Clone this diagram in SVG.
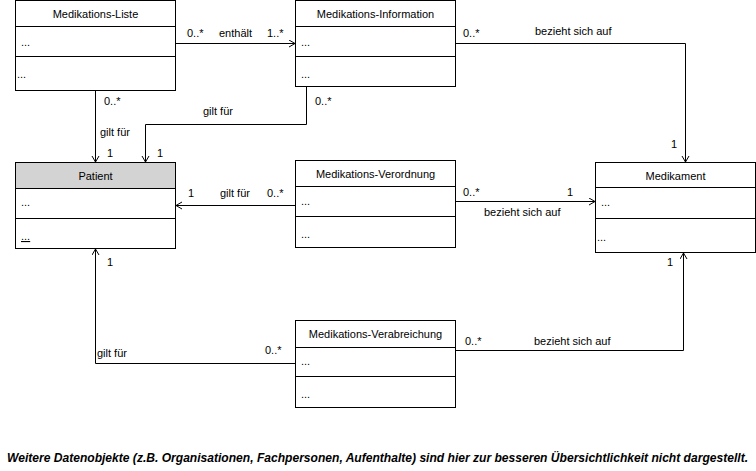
<svg xmlns="http://www.w3.org/2000/svg" width="756" height="471" viewBox="0 0 756 471">
<defs>
<style>
text{font-family:"Liberation Sans",Arial,sans-serif;font-size:11px;fill:#000}
.t{text-anchor:middle}
.box{fill:#fff;stroke:#000;stroke-width:1}
.hdr{fill:#d3d3d3;stroke:#000;stroke-width:1}
.ln{fill:none;stroke:#000;stroke-width:1}
.note{font-family:"Liberation Sans Narrow","Liberation Sans",Arial,sans-serif;font-size:12px;font-weight:bold;font-style:italic}
</style>
<marker id="arr" markerWidth="8" markerHeight="9" refX="6" refY="4" orient="auto" markerUnits="userSpaceOnUse">
<path d="M0,0.5 L6,4 L0,7.5" fill="none" stroke="#000" stroke-width="1"/>
</marker>
</defs>
<rect width="756" height="471" fill="#fff"/>

<g id="connectors">
<path class="ln" d="M175,43.5 H295" marker-end="url(#arr)"/>
<text x="187" y="37">0..*</text><text x="219" y="37">enthält</text><text x="267" y="37">1..*</text>

<path class="ln" d="M455,43.5 H685.5 V162" marker-end="url(#arr)"/>
<text x="463" y="37">0..*</text><text x="535" y="35">bezieht sich auf</text><text x="671" y="148">1</text>

<path class="ln" d="M95.5,90 V162" marker-end="url(#arr)"/>
<text x="104" y="105">0..*</text><text x="100" y="136">gilt für</text><text x="107" y="157">1</text>

<path class="ln" d="M306.5,86 V124.5 H145.5 V162" marker-end="url(#arr)"/>
<text x="315" y="105">0..*</text><text x="203" y="115">gilt für</text><text x="157" y="157">1</text>

<path class="ln" d="M295,205.5 H176" marker-end="url(#arr)"/>
<text x="188" y="197">1</text><text x="220" y="197">gilt für</text><text x="267" y="197">0..*</text>

<path class="ln" d="M455,201.5 H595" marker-end="url(#arr)"/>
<text x="463" y="196">0..*</text><text x="567" y="196">1</text><text x="484" y="216">bezieht sich auf</text>

<path class="ln" d="M295,363.5 H95.5 V249" marker-end="url(#arr)"/>
<text x="97" y="357">gilt für</text><text x="265" y="354">0..*</text><text x="107" y="266">1</text>

<path class="ln" d="M455,350.5 H683.5 V253" marker-end="url(#arr)"/>
<text x="465" y="345">0..*</text><text x="534" y="345">bezieht sich auf</text><text x="667" y="266">1</text>
</g>

<g id="medikations-liste">
<rect class="box" x="15.5" y="0.5" width="160" height="90"/>
<path class="ln" d="M15.5,26.5 H175.5 M15.5,56.5 H175.5"/>
<text class="t" x="95.5" y="18">Medikations-Liste</text>
<text x="21" y="46">...</text><text x="17" y="78">...</text>
</g>

<g id="medikations-information">
<rect class="box" x="295.5" y="0.5" width="160" height="86"/>
<path class="ln" d="M295.5,26.5 H455.5 M295.5,56.5 H455.5"/>
<text class="t" x="375.5" y="18">Medikations-Information</text>
<text x="301" y="46">...</text><text x="301" y="78">...</text>
</g>

<g id="patient">
<rect class="box" x="15.5" y="162.5" width="160" height="86"/>
<rect class="hdr" x="15.5" y="162.5" width="160" height="26"/>
<path class="ln" d="M15.5,218.5 H175.5"/>
<text class="t" x="95.5" y="180">Patient</text>
<text x="21" y="206">...</text><text x="21" y="240" text-decoration="underline">...</text>
</g>

<g id="medikations-verordnung">
<rect class="box" x="295.5" y="160.5" width="160" height="87"/>
<path class="ln" d="M295.5,186.5 H455.5 M295.5,216.5 H455.5"/>
<text class="t" x="375.5" y="178">Medikations-Verordnung</text>
<text x="301" y="205">...</text><text x="301" y="238">...</text>
</g>

<g id="medikament">
<rect class="box" x="595.5" y="162.5" width="160" height="90"/>
<path class="ln" d="M595.5,187.5 H755.5 M595.5,218.5 H755.5"/>
<text class="t" x="675.5" y="180">Medikament</text>
<text x="601" y="206">...</text><text x="597" y="241">...</text>
</g>

<g id="medikations-verabreichung">
<rect class="box" x="295.5" y="320.5" width="160" height="87"/>
<path class="ln" d="M295.5,347.5 H455.5 M295.5,376.5 H455.5"/>
<text class="t" x="375.5" y="338">Medikations-Verabreichung</text>
<text x="301" y="365">...</text><text x="301" y="398">...</text>
</g>

<text class="note" x="7" y="462" textLength="741" lengthAdjust="spacingAndGlyphs">Weitere Datenobjekte (z.B. Organisationen, Fachpersonen, Aufenthalte) sind hier zur besseren Übersichtlichkeit nicht dargestellt.</text>
</svg>
